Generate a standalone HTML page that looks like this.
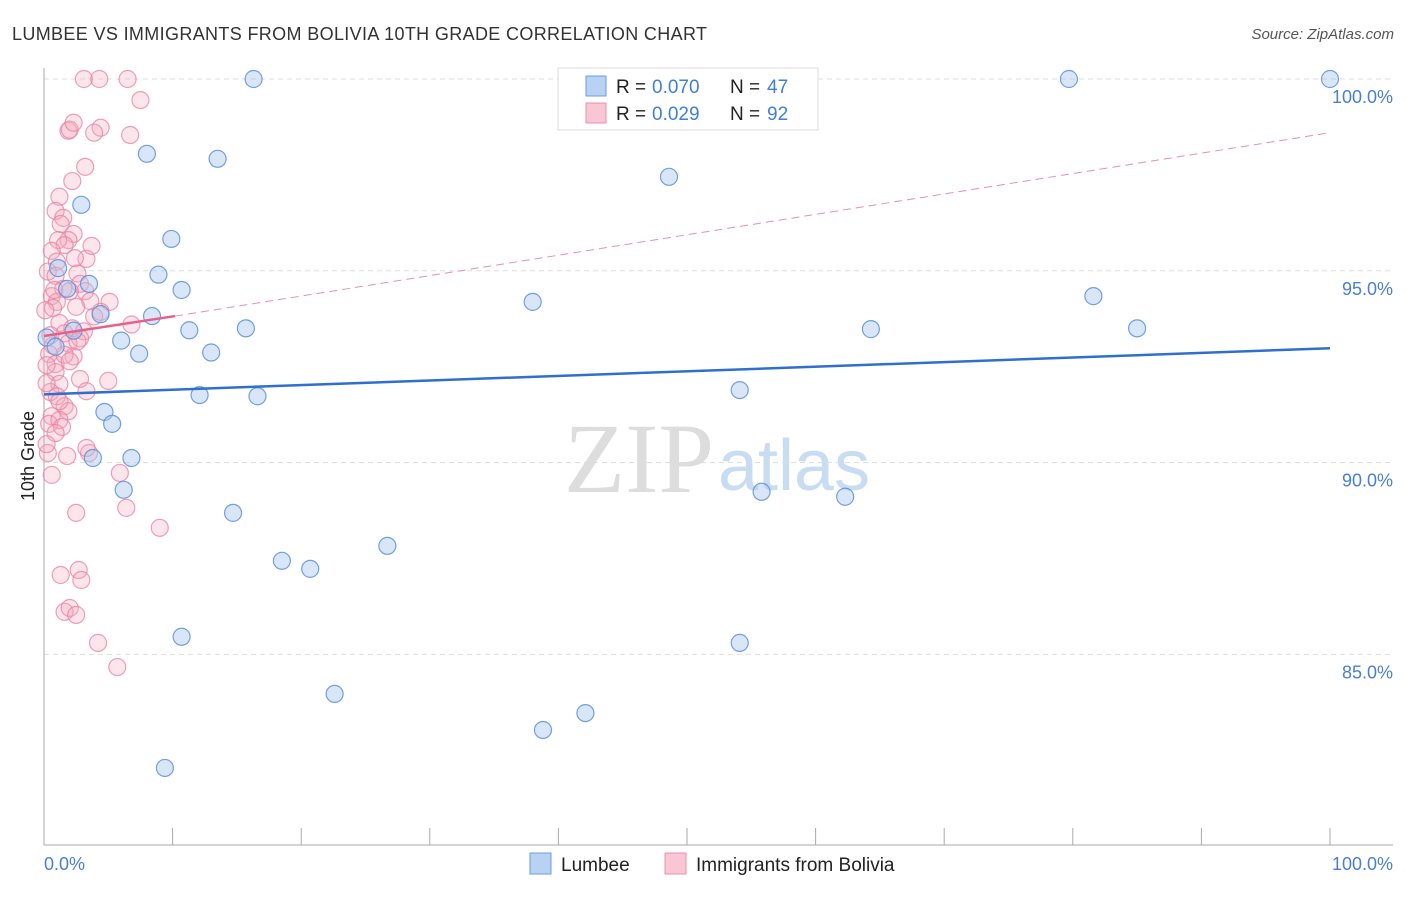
<!DOCTYPE html>
<html><head><meta charset="utf-8"><style>
body{margin:0;background:#fff;font-family:"Liberation Sans",sans-serif;}
</style></head><body>
<svg width="1406" height="892" xmlns="http://www.w3.org/2000/svg" font-family="Liberation Sans, sans-serif">
<text x="12" y="40" font-size="18" fill="#333" textLength="695">LUMBEE VS IMMIGRANTS FROM BOLIVIA 10TH GRADE CORRELATION CHART</text>
<text x="1394" y="39" font-size="15" fill="#555" font-style="italic" text-anchor="end">Source: ZipAtlas.com</text>
<g id="grid"></g>
<text x="714" y="492" font-size="100" fill="#ddd" style="font-family:'Liberation Serif',serif" text-anchor="end">ZIP</text>
<text x="718" y="490" font-size="72" fill="#c8dcf2">atlas</text>
<line x1="44" y1="68" x2="44" y2="845" stroke="#aaa"/>
<line x1="44" y1="845" x2="1393" y2="845" stroke="#aaa"/>
<g id="xticks"></g>
<g id="ylabels"></g>
<text x="44" y="870" font-size="18" fill="#4a7fd0">0.0%</text>
<text x="1393" y="870" font-size="18" fill="#4a7fd0" text-anchor="end">100.0%</text>
<text transform="translate(34,456) rotate(-90)" font-size="18" fill="#222" text-anchor="middle">10th Grade</text>
<g id="pink"></g>
<g id="blue"></g>
<g id="trends"></g>
<g>
<rect x="558" y="68" width="260" height="62" fill="#fff" stroke="#ddd"/>
<rect x="586" y="76" width="20" height="20" fill="#b8d2f4" stroke="#6a9ee0"/>
<rect x="586" y="103" width="20" height="20" fill="#f9c6d4" stroke="#e890aa"/>
<text x="616" y="93" font-size="19" fill="#222">R =</text>
<text x="652" y="93" font-size="19" fill="#3f7fd6">0.070</text>
<text x="730" y="93" font-size="19" fill="#222">N =</text>
<text x="767" y="93" font-size="19" fill="#3f7fd6">47</text>
<text x="616" y="120" font-size="19" fill="#222">R =</text>
<text x="652" y="120" font-size="19" fill="#3f7fd6">0.029</text>
<text x="730" y="120" font-size="19" fill="#222">N =</text>
<text x="767" y="120" font-size="19" fill="#3f7fd6">92</text>
</g>
<g>
<rect x="530" y="853" width="21" height="21" fill="#b8d2f4" stroke="#6a9ee0"/>
<text x="561" y="871" font-size="19" fill="#222">Lumbee</text>
<rect x="665" y="853" width="21" height="21" fill="#f9c6d4" stroke="#e890aa"/>
<text x="696" y="871" font-size="19" fill="#222">Immigrants from Bolivia</text>
</g>
</svg>
<script>
const yTicks=[100,95,90,85];
const yTickLabels=["100.0%","95.0%","90.0%","85.0%"];
const xTicks=[0,10,20,30,40,50,60,70,80,90,100];
const lumbeeX=[16.3,79.7,100,8,13.5,48.6,2.9,9.9,8.9,3.5,10.7,81.6,1.8,38,8.4,4.4,11.3,15.7,64.3,85,2.3,6,7.4,13,0.2,0.9,54.1,12.1,16.6,4.7,5.3,3.8,6.8,55.8,62.3,6.2,14.7,26.7,18.5,20.7,10.7,54.1,22.6,42.1,38.8,9.4,1.1];
const lumbeeY=[100,100,100,98.05,97.92,97.45,96.72,95.83,94.9,94.66,94.5,94.34,94.53,94.19,93.82,93.87,93.45,93.5,93.48,93.5,93.44,93.18,92.84,92.87,93.26,93.02,91.89,91.76,91.73,91.32,91.01,90.12,90.12,89.24,89.11,89.29,88.69,87.83,87.44,87.23,85.46,85.3,83.97,83.47,83.03,82.04,95.07];
const bolX=[3.1,4.3,6.5,7.5,1.9,2,2.3,4.4,3.9,6.7,3.2,2.2,1.2,0.9,1.5,1.3,2.3,1.9,1.1,1.6,0.6,1,3.3,2.4,3.7,0.3,0.9,2.6,2.8,1.5,0.6,1,3.2,5.1,4.4,0.7,1.2,2.2,1.6,3.1,2.8,1.9,0.7,6.8,2.6,2.3,0.4,0.9,0.9,2.8,1.2,5,0.5,1,1.6,1.9,3.3,0.6,0.4,1.2,1.4,0.9,1.8,3.5,0.3,3.3,5.9,0.6,6.4,2.5,9,1.3,2.7,2.9,1.6,2,2.5,4.2,5.7,0.2,0.2,0.5,0.8,0.1,1.6,2,3.6,1.2,2.5,3.9,0.2,2];
const bolY=[100,100,100,99.45,98.65,98.68,98.86,98.73,98.6,98.54,97.71,97.34,96.93,96.56,96.38,96.22,95.96,95.8,95.8,95.67,95.52,95.24,95.31,95.33,95.65,94.98,94.87,94.93,94.66,94.53,94.34,94.19,94.47,94.19,93.93,94.03,93.64,93.5,93.37,93.42,93.24,93.11,93.05,93.6,93.16,92.77,92.83,92.57,92.36,92.18,92.05,92.13,91.84,91.73,91.47,91.34,91.86,91.21,91.01,91.11,90.93,90.77,90.17,90.25,90.25,90.38,89.73,89.68,88.82,88.69,88.3,87.07,87.2,86.94,86.11,86.21,86.03,85.3,84.67,92.07,92.54,93.32,94.5,93.97,92.81,94.47,94.21,91.6,94.06,93.81,90.48,92.64];
const X0=44,X1=1330,Y100=79,PX_PER_PCT=38.36;
const sx=v=>X0+(X1-X0)*v/100;
const sy=v=>Y100+(100-v)*PX_PER_PCT;
const NS="http://www.w3.org/2000/svg";
function mk(tag,attrs,parent){const e=document.createElementNS(NS,tag);for(const k in attrs)e.setAttribute(k,attrs[k]);parent.appendChild(e);return e;}
const grid=document.getElementById('grid'),yl=document.getElementById('ylabels'),xt=document.getElementById('xticks');
yTicks.forEach((t,i)=>{
 const l=mk('line',{x1:44,x2:1393,y1:sy(t),y2:sy(t),stroke:'#ddd','stroke-dasharray':'5,4'},grid);
 
 
 const tx=mk('text',{x:1393,y:sy(t)+24,'font-size':18,fill:'#4a7fd0','text-anchor':'end'},yl);
 tx.textContent=yTickLabels[i];
 
 
});
xTicks.forEach(t=>{
 const l=mk('line',{x1:sx(t),x2:sx(t),y1:828,y2:845,stroke:'#aaa'},xt);
 
 
});
const pg=document.getElementById('pink');
bolX.forEach((x,i)=>{
 const c=mk('circle',{cx:sx(x),cy:sy(bolY[i]),r:8.5,fill:'rgba(244,168,190,0.3)',stroke:'rgba(232,128,160,0.75)','stroke-width':1.2},pg);
 
 
});
const bg=document.getElementById('blue');
lumbeeX.forEach((x,i)=>{
 const c=mk('circle',{cx:sx(x),cy:sy(lumbeeY[i]),r:8.5,fill:'rgba(168,200,240,0.45)',stroke:'rgba(90,145,220,0.85)','stroke-width':1.2},bg);
 
 
});
const tg=document.getElementById('trends');
const bt=mk('line',{x1:sx(0),y1:sy(91.78),x2:sx(100),y2:sy(92.98),stroke:'#2f6fd0','stroke-width':2.5},tg);


const pt=mk('line',{x1:sx(0),y1:sy(93.3),x2:sx(10.2),y2:sy(93.82),stroke:'#e8608a','stroke-width':2.5},tg);


const pd=mk('line',{x1:sx(10.2),y1:sy(93.82),x2:sx(100),y2:sy(98.6),stroke:'#e890aa','stroke-width':1,'stroke-dasharray':'8,5'},tg);


</script>
</body></html>
